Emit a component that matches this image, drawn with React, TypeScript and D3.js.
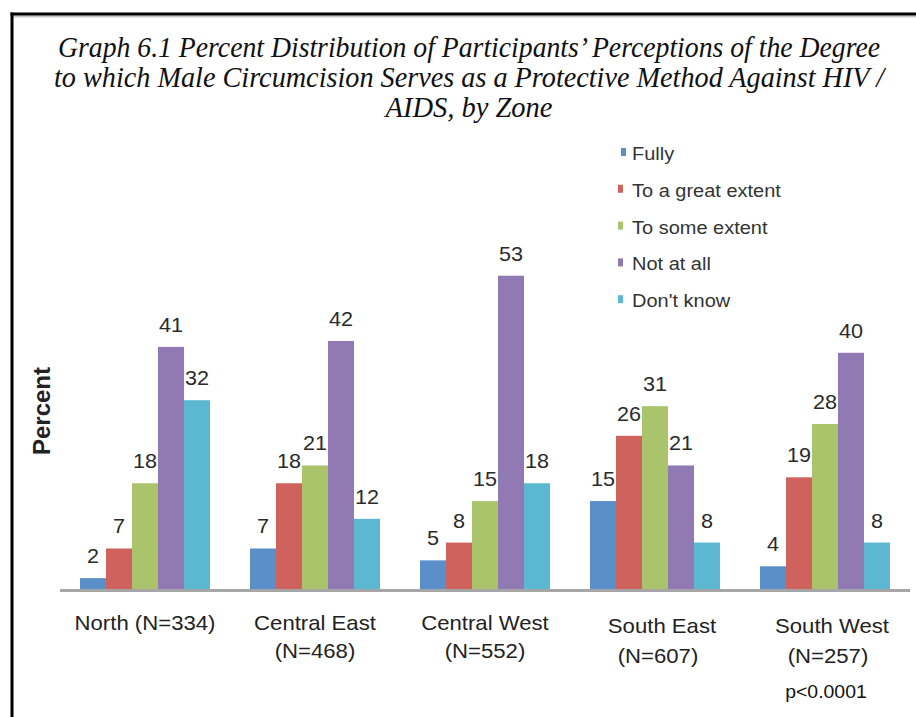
import React from "react";
import * as d3 from "d3";

const zones = ["North", "Central East", "Central West", "South East", "South West"];
const zoneLabels: string[][] = [
  ["North (N=334)"],
  ["Central East", "(N=468)"],
  ["Central West", "(N=552)"],
  ["South East", "(N=607)"],
  ["South West", "(N=257)"],
];
const seriesNames = ["Fully", "To a great extent", "To some extent", "Not at all", "Don't know"];
const fully = [2, 7, 5, 15, 4];
const greatExtent = [7, 18, 8, 26, 19];
const someExtent = [18, 21, 15, 31, 28];
const notAtAll = [41, 42, 53, 21, 40];
const dontKnow = [32, 12, 18, 8, 8];
const seriesValues = [fully, greatExtent, someExtent, notAtAll, dontKnow];
const colors = ["#5B8FCA", "#CF625C", "#A9C46A", "#9179B3", "#5BB8D0"];
const titleLines = [
  "Graph 6.1 Percent Distribution of Participants\u2019 Perceptions of the Degree",
  "to which Male Circumcision Serves as a Protective Method Against HIV /",
  "AIDS, by Zone",
];
const yMax = 60;
const pNote = "p<0.0001";

const W = 916;
const H = 717;
const SX = 1.08;
const sans = "Arial, 'Liberation Sans', Helvetica, sans-serif";

export default function App() {
  const x0 = d3
    .scaleBand<string>()
    .domain(zones)
    .range([60, 910])
    .paddingInner(40 / 170)
    .paddingOuter(20 / 170);
  const x1 = d3.scaleBand<string>().domain(seriesNames).range([0, x0.bandwidth()]).padding(0);
  const y = d3.scaleLinear().domain([0, yMax]).range([590, 590 - yMax * 5.93]);

  const titleWidths = [822, 830, 167];
  const titleX = 469;
  const titleY = [57, 87, 117];

  const legendX = 618;
  const legendY0 = 160;
  const legendStep = 36.8;

  return (
    <svg
      width={W}
      height={H}
      style={{ position: "absolute", left: 0, top: 0, background: "#fff" }}
    >
      <rect x={0} y={0} width={W} height={H} fill="#fff" />
      {/* frame */}
      <line x1={12} y1={16.5} x2={W} y2={16.5} stroke="#c8c8c8" strokeWidth={2} />
      <line x1={10.5} y1={14} x2={W} y2={14} stroke="#000" strokeWidth={3} />
      <line x1={12} y1={12.5} x2={12} y2={H} stroke="#000" strokeWidth={3} />

      {/* title */}
      {titleLines.map((t, i) => (
        <text
          key={i}
          x={titleX}
          y={titleY[i]}
          textAnchor="middle"
          fontFamily="'Liberation Serif', 'Times New Roman', serif"
          fontStyle="italic"
          fontSize={28.5}
          fill="#111"
          textLength={titleWidths[i]}
          lengthAdjust="spacingAndGlyphs"
        >
          {t}
        </text>
      ))}

      {/* legend */}
      {seriesNames.map((s, i) => (
        <g key={s}>
          <rect
            x={legendX + (i === 0 ? 3 : 0)}
            y={legendY0 + i * legendStep - 12}
            width={5}
            height={8}
            fill={colors[i]}
          />
          <text
            transform={`translate(${legendX + 14},${legendY0 + i * legendStep}) scale(${SX},1)`}
            fontFamily={sans}
            fontSize={18.5}
            fill="#333"
          >
            {s}
          </text>
        </g>
      ))}

      {/* y axis title */}
      <text
        transform={`translate(50,411) rotate(-90)`}
        textAnchor="middle"
        fontFamily={sans}
        fontWeight="bold"
        fontSize={24}
        fill="#222"
      >
        Percent
      </text>

      {/* bars */}
      {zones.map((z, zi) => (
        <g key={z} transform={`translate(${x0(z)},0)`}>
          {seriesNames.map((s, si) => {
            const v = seriesValues[si][zi];
            const bx = x1(s)!;
            const bw = x1.bandwidth();
            return (
              <g key={s}>
                <rect x={bx} y={y(v)} width={bw} height={y(0) - y(v)} fill={colors[si]} />
                <text
                  transform={`translate(${bx + bw / 2},${y(v) - 15}) scale(${SX},1)`}
                  textAnchor="middle"
                  fontFamily={sans}
                  fontSize={20}
                  fill="#2a2a2a"
                >
                  {v}
                </text>
              </g>
            );
          })}
        </g>
      ))}

      {/* baseline */}
      <line x1={60} y1={590.5} x2={910} y2={590.5} stroke="#a6a6a6" strokeWidth={3} />

      {/* category labels */}
      {zones.map((z, zi) => {
        const cx = x0(z)! + x0.bandwidth() / 2 + (zi >= 3 ? 7 : 0);
        const by = zi >= 3 ? 633 : 630;
        const step = zi >= 3 ? 29.5 : 28;
        return zoneLabels[zi].map((line, li) => (
          <text
            key={z + li}
            transform={`translate(${cx + (zi >= 3 && li === 1 ? -4 : 0)},${by + li * step}) scale(${SX},1)`}
            textAnchor="middle"
            fontFamily={sans}
            fontSize={20.5}
            fill="#222"
          >
            {line}
          </text>
        ));
      })}

      <text
        transform={`translate(826,698) scale(1.05,1)`}
        textAnchor="middle"
        fontFamily={sans}
        fontSize={18.5}
        fill="#111"
      >
        {pNote}
      </text>
    </svg>
  );
}
